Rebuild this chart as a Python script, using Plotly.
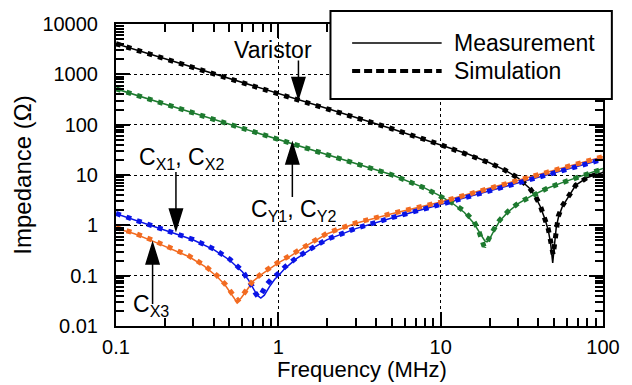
import plotly.graph_objects as go

# ---- Impedance data (frequency in MHz, impedance in ohm) ----
# Varistor
var_f_meas = [0.1, 0.2, 0.5, 1, 2, 5, 10, 15, 20, 25, 30, 35, 38, 41, 44, 46, 47.5, 48.5, 49, 50, 51.5, 53, 56, 60, 68, 80, 90, 100]
var_z_meas = [4050, 2050, 830, 420, 210, 83, 40, 25.5, 17.5, 12.4, 8.7, 5.6, 3.9, 2.4, 1.3, 0.8, 0.45, 0.22, 0.18, 0.35, 0.9, 1.4, 2.3, 3.3, 6.3, 8.9, 10.1, 11.2]
var_f_sim = [0.1, 0.2, 0.5, 1, 2, 5, 10, 15, 20, 25, 30, 35, 38, 41, 44, 46, 47.5, 48.5, 49.3, 50.2, 51.5, 53, 56, 60, 68, 80, 90, 100]
var_z_sim = [4050, 2050, 830, 420, 210, 83, 40, 25.5, 17.5, 12.4, 8.7, 5.7, 4.0, 2.5, 1.4, 0.85, 0.5, 0.32, 0.26, 0.4, 0.95, 1.5, 2.4, 3.4, 6.3, 8.9, 10.1, 11.2]

# Y capacitors (CY1, CY2)
cy_f_meas = [0.1, 0.2, 0.5, 1, 2, 5, 8, 10, 12, 14, 16, 17, 18, 18.7, 19.3, 20, 21, 23, 26, 30, 36, 45, 55, 65, 80, 100]
cy_z_meas = [515, 258, 103, 51.5, 25.5, 10.1, 5.5, 3.8, 2.65, 1.8, 1.1, 0.82, 0.6, 0.49, 0.47, 0.53, 0.72, 1.2, 1.85, 2.7, 3.8, 5.4, 6.9, 8.4, 10.7, 13.5]
cy_f_sim = [0.1, 0.2, 0.5, 1, 2, 5, 8, 10, 12, 14, 16, 17, 17.8, 18.5, 19.2, 20, 21, 23, 26, 30, 36, 45, 55, 65, 80, 100]
cy_z_sim = [515, 258, 103, 51.5, 25.5, 10.1, 5.5, 3.8, 2.7, 1.9, 1.2, 0.85, 0.58, 0.38, 0.45, 0.6, 0.78, 1.25, 1.9, 2.75, 3.8, 5.4, 6.9, 8.4, 10.6, 13.3]

# X capacitors (CX1, CX2)
cx12_f_meas = [0.1, 0.15, 0.2, 0.25, 0.3, 0.4, 0.5, 0.6, 0.65, 0.7, 0.74, 0.78, 0.82, 0.88, 0.95, 1.0, 1.1, 1.3, 1.6, 2, 3, 5, 10, 20, 50, 100]
cx12_z_meas = [1.7, 1.1, 0.82, 0.63, 0.51, 0.33, 0.205, 0.12, 0.085, 0.056, 0.041, 0.036, 0.041, 0.06, 0.085, 0.1, 0.14, 0.22, 0.34, 0.52, 0.86, 1.4, 2.6, 4.9, 11, 20.5]
cx12_f_sim = [0.1, 0.15, 0.2, 0.25, 0.3, 0.4, 0.5, 0.6, 0.65, 0.69, 0.72, 0.75, 0.79, 0.85, 0.92, 1.0, 1.1, 1.3, 1.6, 2, 3, 5, 10, 20, 50, 100]
cx12_z_sim = [1.72, 1.12, 0.84, 0.65, 0.52, 0.34, 0.215, 0.125, 0.088, 0.062, 0.046, 0.038, 0.045, 0.068, 0.09, 0.11, 0.15, 0.23, 0.35, 0.53, 0.87, 1.42, 2.6, 4.9, 11, 20.5]

# X capacitor (CX3)
cx3_f_meas = [0.1, 0.13, 0.17, 0.22, 0.28, 0.35, 0.42, 0.47, 0.51, 0.54, 0.56, 0.59, 0.63, 0.7, 0.8, 0.9, 1.0, 1.2, 1.5, 2, 3, 5, 10, 20, 50, 100]
cx3_z_meas = [0.88, 0.68, 0.48, 0.34, 0.24, 0.155, 0.095, 0.065, 0.045, 0.034, 0.031, 0.036, 0.048, 0.078, 0.11, 0.145, 0.18, 0.25, 0.4, 0.68, 1.1, 1.7, 2.9, 5.5, 12.3, 23]
cx3_f_sim = cx3_f_meas
cx3_z_sim = [0.9, 0.7, 0.5, 0.35, 0.25, 0.16, 0.1, 0.068, 0.048, 0.036, 0.032, 0.037, 0.05, 0.08, 0.115, 0.15, 0.185, 0.26, 0.41, 0.7, 1.12, 1.72, 2.9, 5.5, 12.3, 23.2]

# ---- Axis ticks ----
x_ticks = [0.1, 1, 10, 100]
x_tick_text = ["0.1", "1", "10", "100"]
y_ticks = [0.01, 0.1, 1, 10, 100, 1000, 10000]
y_tick_text = ["0.01", "0.1", "1", "10", "100", "1000", "10000"]

# ---- Styling ----
FONT = "Arial, 'Liberation Sans', sans-serif"
W, H = 632, 385
ML, MR, MT, MB = 116, 21, 24, 59
PW, PH = W - ML - MR, H - MT - MB

C_VAR = "#000000"
C_CY = "#1d7a2f"
C_CX12 = "#0a14e6"
C_CX3 = "#f26b21"

SIM_DASH = "5px,6px"


def px(x, y):
    """Figure pixel position -> paper coordinates."""
    return (x - ML) / PW, 1 - (y - MT) / PH


series = [
    (var_f_meas, var_z_meas, var_f_sim, var_z_sim, C_VAR),
    (cy_f_meas, cy_z_meas, cy_f_sim, cy_z_sim, C_CY),
    (cx12_f_meas, cx12_z_meas, cx12_f_sim, cx12_z_sim, C_CX12),
    (cx3_f_meas, cx3_z_meas, cx3_f_sim, cx3_z_sim, C_CX3),
]

fig = go.Figure()
for fm, zm, fs, zs, col in series:
    fig.add_trace(go.Scatter(x=fm, y=zm, mode="lines",
                             line=dict(color=col, width=1.5),
                             showlegend=False, hoverinfo="skip"))
for fm, zm, fs, zs, col in series:
    fig.add_trace(go.Scatter(x=fs, y=zs, mode="lines",
                             line=dict(color=col, width=5, dash=SIM_DASH),
                             showlegend=False, hoverinfo="skip"))

shapes = []

# Legend box drawn by hand
x0, y0 = px(334, 99)
x1, y1 = px(620, 11)
shapes.append(dict(type="rect", xref="paper", yref="paper", x0=x0, y0=y0, x1=x1, y1=y1,
                   line=dict(color="black", width=2), fillcolor="white", layer="above"))
lx0, ly_m = px(356, 43)
lx1, ly_s = px(447, 71)
shapes.append(dict(type="line", xref="paper", yref="paper", x0=lx0, x1=lx1, y0=ly_m, y1=ly_m,
                   line=dict(color="black", width=1.5), layer="above"))
shapes.append(dict(type="line", xref="paper", yref="paper", x0=lx0, x1=lx1, y0=ly_s, y1=ly_s,
                   line=dict(color="black", width=4, dash="8px,4px"), layer="above"))

# Pointer arrows: tip anchored at (freq, impedance), sizes in pixels
# (freq, impedance, direction, total length)
pointers = [
    (1.33, 330, "down", 38),
    (0.234, 0.81, "down", 58),
    (1.22, 43, "up", 54),
    (0.168, 0.447, "up", 61),
]
HEAD_L, HEAD_W = 21, 6.5
for f, z, d, length in pointers:
    s = 1 if d == "down" else -1
    path = (f"M0,0 L{-HEAD_W},{s*HEAD_L} L{HEAD_W},{s*HEAD_L} Z "
            f"M0,{s*HEAD_L} L0,{s*length}")
    shapes.append(dict(type="path", xref="x", yref="y", xsizemode="pixel", ysizemode="pixel",
                       xanchor=f, yanchor=z, path=path,
                       fillcolor="black", line=dict(color="black", width=1.5), layer="above"))

annotations = []


def label(text, x, y, xanchor="left", size=23):
    ax, ay = px(x, y)
    annotations.append(dict(text=text, xref="paper", yref="paper", x=ax, y=ay,
                            xanchor=xanchor, yanchor="middle", showarrow=False,
                            font=dict(family=FONT, size=size, color="black")))


label("Measurement", 458, 43)
label("Simulation", 458, 71)
label("Varistor", 276, 50, xanchor="center")
label("C<sub>X1</sub>, C<sub>X2</sub>", 137, 159)
label("C<sub>Y1</sub>, C<sub>Y2</sub>", 251, 210)
label("C<sub>X3</sub>", 131, 305)
# horizontal axis title
label("Frequency (MHz)", 366, 369, xanchor="center", size=22)

axis_common = dict(
    type="log",
    showline=True, linecolor="black", linewidth=2, mirror="allticks",
    ticks="inside", ticklen=14, tickwidth=1.5, tickcolor="black",
    tickmode="array",
    showgrid=True, gridcolor="black", gridwidth=1, griddash="dot",
    zeroline=False,
    tickfont=dict(family=FONT, size=20, color="black"),
)

minor_vals_x = [m * 10 ** e for e in (-1, 0, 1) for m in range(2, 10)]
minor_vals_y = [m * 10 ** e for e in (-2, -1, 0, 1, 2, 3) for m in range(2, 10)]

fig.update_layout(
    width=W, height=H,
    margin=dict(l=ML, r=MR, t=MT, b=MB, pad=0),
    paper_bgcolor="white", plot_bgcolor="white",
    showlegend=False,
    xaxis=dict(**axis_common, range=[-1, 2], tickvals=x_ticks, ticktext=x_tick_text,
               ticklabelstandoff=2,
               minor=dict(tickmode="array", tickvals=minor_vals_x, ticks="inside",
                          ticklen=8, tickwidth=1.5, tickcolor="black", showgrid=False)),
    yaxis=dict(**axis_common, range=[-2, 4], tickvals=y_ticks, ticktext=y_tick_text,
               ticklabelstandoff=12,
               minor=dict(tickmode="array", tickvals=minor_vals_y, ticks="inside",
                          ticklen=8, tickwidth=1.5, tickcolor="black", showgrid=False),
               title=dict(text="Impedance (Ω)", font=dict(family=FONT, size=24, color="black"),
                          standoff=4)),
    shapes=shapes,
    annotations=annotations,
)

fig.write_html("out.html")
